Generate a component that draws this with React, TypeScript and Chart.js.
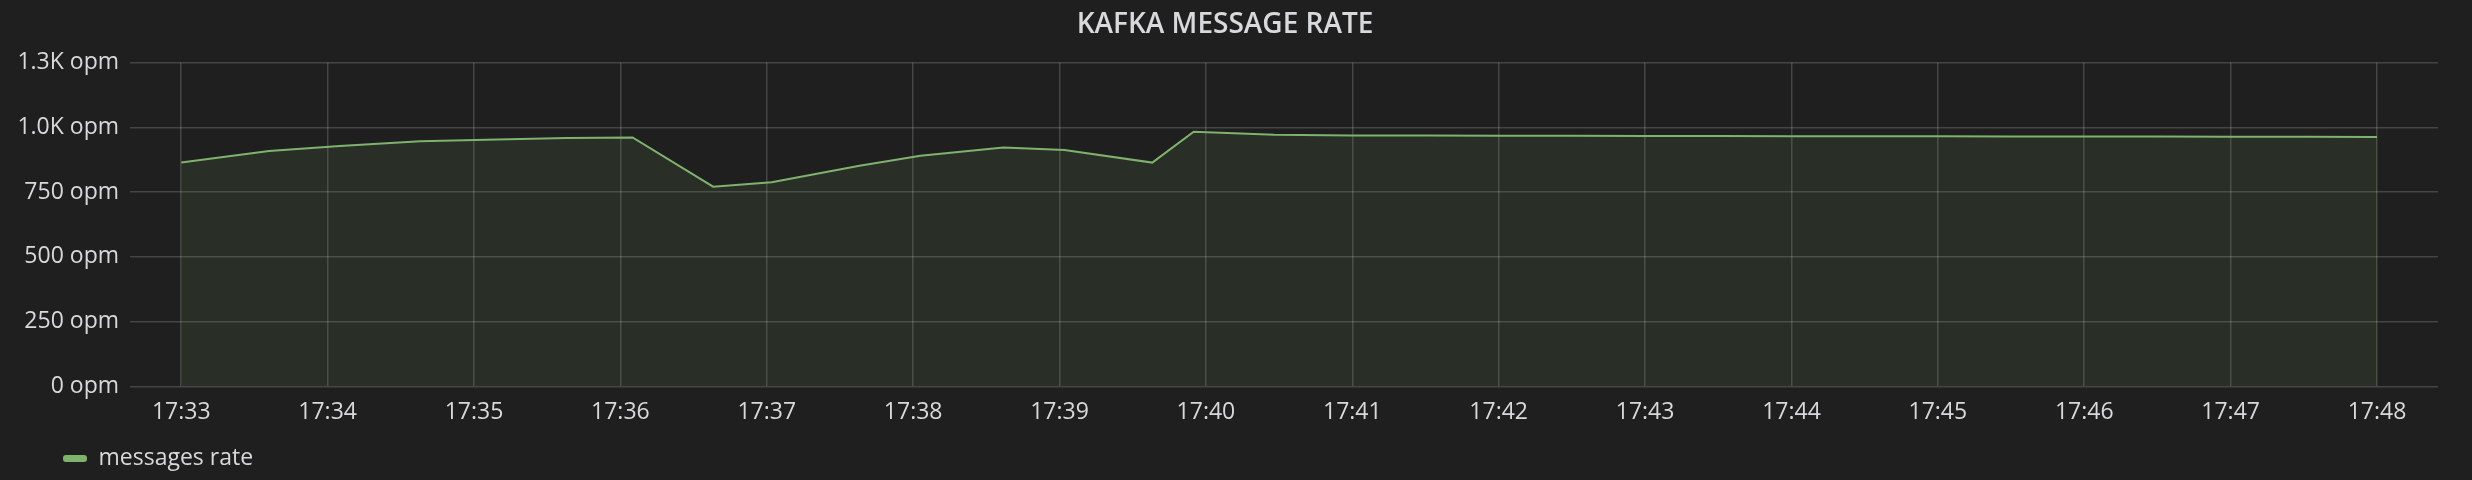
import React, { useEffect, useRef } from "react";
import { Chart, registerables } from "chart.js";

Chart.register(...registerables);

// ---- data ----
const TITLE = "KAFKA MESSAGE RATE";
const SERIES_LABEL = "messages rate";
const SAMPLE_TIMES = [
  "17:33:00", "17:33:36", "17:34:05", "17:34:38", "17:35:05", "17:35:38",
  "17:36:05", "17:36:38", "17:37:02", "17:37:38", "17:38:03", "17:38:37",
  "17:39:02", "17:39:38", "17:39:55", "17:40:28", "17:41:00", "17:41:30",
  "17:42:00", "17:42:30", "17:43:00", "17:43:30", "17:44:00", "17:44:30",
  "17:45:00", "17:45:30", "17:46:00", "17:46:30", "17:47:00", "17:47:30",
  "17:48:00",
];
const MESSAGE_RATE = [
  864, 909, 928, 946, 952, 959,
  961, 771, 788, 852, 890, 922,
  913, 864, 983, 971, 969, 969,
  968, 968, 967, 967, 966, 966,
  966, 965, 965, 965, 964, 964,
  963,
];
const X_TICK_LABELS = [
  "17:33", "17:34", "17:35", "17:36", "17:37", "17:38", "17:39", "17:40",
  "17:41", "17:42", "17:43", "17:44", "17:45", "17:46", "17:47", "17:48",
];
const Y_TICK_VALUES = [0, 250, 500, 750, 1000, 1250];
const X_RANGE = ["17:32:39", "17:48:25"];

// ---- helpers ----
const toMinutes = (t: string) => {
  const [h, m, s] = t.split(":").map(Number);
  return (h - 17) * 60 + m + (s || 0) / 60;
};
const fmtMinutes = (v: number) => {
  const total = Math.round(v);
  const h = 17 + Math.floor(total / 60);
  const m = total % 60;
  return `${h}:${String(m).padStart(2, "0")}`;
};
const fmtOpm = (v: number) =>
  v >= 1000 ? `${(v / 1000).toFixed(1)}K opm` : `${v} opm`;

const LINE = "#7eb26d";
const TEXT = "#d8d9da";
const GRID = "rgba(255,255,255,0.17)";
const FONT = "'Open Sans', 'Noto Sans', sans-serif";
const SMALL = 23;

const legendShift = {
  id: "legendShift",
  afterLayout(chart: any) {
    if (chart.legend) chart.legend.left += 42;
  },
};

export default function App() {
  const ref = useRef<HTMLCanvasElement | null>(null);

  useEffect(() => {
    document.body.style.margin = "0";
    document.body.style.background = "#1f1f1f";
    if (!ref.current) return;
    const points = SAMPLE_TIMES.map((t, i) => ({ x: toMinutes(t), y: MESSAGE_RATE[i] }));
    const chart = new Chart(ref.current, {
      type: "line",
      data: {
        datasets: [
          {
            label: SERIES_LABEL,
            data: points,
            borderColor: LINE,
            borderWidth: 2,
            backgroundColor: "rgba(126,178,109,0.1)",
            fill: "origin",
            pointRadius: 0,
            tension: 0,
          },
        ],
      },
      plugins: [legendShift],
      options: {
        responsive: false,
        animation: false,
        layout: { padding: { left: 12, right: 34, top: 0, bottom: 0 } },
        plugins: {
          title: {
            display: true,
            text: TITLE,
            color: TEXT,
            font: { family: FONT, size: 28, weight: 600 },
            padding: { top: 8, bottom: 21 },
          },
          legend: {
            display: true,
            position: "bottom",
            align: "start",
            labels: {
              color: TEXT,
              font: { family: FONT, size: SMALL },
              boxWidth: 24,
              boxHeight: 7,
              useBorderRadius: true,
              borderRadius: 3,
              padding: 9,
              generateLabels: (c: any) => {
                const items = (Chart.defaults.plugins.legend.labels as any).generateLabels(c);
                items.forEach((it: any) => {
                  it.fillStyle = LINE;
                  it.strokeStyle = LINE;
                  it.lineWidth = 0;
                });
                return items;
              },
            },
          },
          tooltip: { enabled: false },
        },
        scales: {
          x: {
            type: "linear",
            min: toMinutes(X_RANGE[0]),
            max: toMinutes(X_RANGE[1]),
            afterBuildTicks: (axis: any) => {
              axis.ticks = X_TICK_LABELS.map((l) => ({ value: toMinutes(l) }));
            },
            ticks: {
              color: TEXT,
              font: { family: FONT, size: SMALL },
              padding: 12,
              maxRotation: 0,
              autoSkip: false,
              callback: (v: any) => fmtMinutes(Number(v)),
            },
            grid: { color: GRID, lineWidth: 1.5, drawTicks: false },
            border: { display: false },
          },
          y: {
            min: Y_TICK_VALUES[0],
            max: Y_TICK_VALUES[Y_TICK_VALUES.length - 1],
            afterBuildTicks: (axis: any) => {
              axis.ticks = Y_TICK_VALUES.map((v) => ({ value: v }));
            },
            afterFit: (axis: any) => {
              axis.width = 118;
            },
            ticks: {
              color: TEXT,
              font: { family: FONT, size: SMALL },
              padding: 11,
              callback: (v: any) => fmtOpm(Number(v)),
            },
            grid: { color: GRID, lineWidth: 1.5, drawTicks: false },
            border: { display: false },
          },
        },
      },
    });
    return () => chart.destroy();
  }, []);

  return (
    <canvas
      ref={ref}
      width={2472}
      height={480}
      style={{ position: "fixed", left: 0, top: 0, width: 2472, height: 480, background: "#1f1f1f" }}
    />
  );
}
